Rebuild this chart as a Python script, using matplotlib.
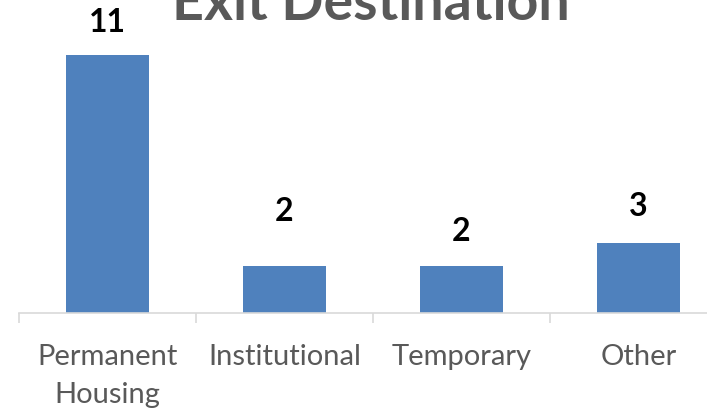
import matplotlib
matplotlib.use("Agg")
import matplotlib.pyplot as plt
import numpy as np

categories = ["Permanent\nHousing", "Institutional", "Temporary", "Other"]
values = [11, 2, 2, 3]
value_labels = ["11", "2", "2", "3"]
label_offsets_px = [32, 55, 35, 36]

W, H, DPI = 707, 409, 100
fig = plt.figure(figsize=(W / DPI, H / DPI), dpi=DPI)
ax = fig.add_axes([19 / W, 96 / H, 708 / W, 281.5 / H])

x = np.arange(len(categories))
ax.bar(x, values, width=0.47, color="#4f81bd", zorder=2)
ax.set_xlim(-0.5, len(categories) - 0.5)
ax.set_ylim(0, 12)

for xi, v, lab, off in zip(x, values, value_labels, label_offsets_px):
    ax.annotate(lab, (xi, v), xytext=(0, off * 72 / DPI), textcoords="offset points",
                ha="center", va="center", fontsize=23, fontweight="bold",
                family="Lato", color="black")

for s in ["top", "right", "left"]:
    ax.spines[s].set_visible(False)
ax.spines["bottom"].set_color("#d9d9d9")
ax.spines["bottom"].set_linewidth(1.2)
ax.set_yticks([])
ax.set_xticks(np.arange(len(categories) + 1) - 0.5, minor=False)
ax.set_xticklabels([])
ax.tick_params(axis="x", which="major", length=10 * 72 / DPI, color="#d9d9d9", width=1.2)
ax.set_xticks(x, minor=True)
ax.set_xticklabels(categories, minor=True, fontsize=21, family="Lato", color="#595959",
                   linespacing=1.6)
ax.tick_params(axis="x", which="minor", length=0, pad=22)

fig.text(371 / W, 1 - 20 / H, "Exit Destination", ha="center", va="baseline",
         fontsize=40, fontweight="bold", family="Lato", color="#595959")

fig.savefig("out.png", dpi=DPI)
